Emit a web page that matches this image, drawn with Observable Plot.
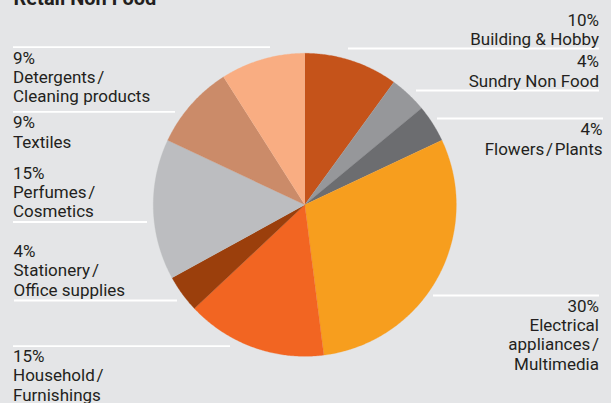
<!DOCTYPE html>
<html><head><meta charset="utf-8">
<script src="https://cdn.jsdelivr.net/npm/d3@7"></script>
<script src="https://cdn.jsdelivr.net/npm/@observablehq/plot@0.6"></script>
<style>
html,body{margin:0;padding:0;background:#e4e5e7;}
#chart svg{display:block;}
</style></head><body><div id="chart"></div>
<script>
// ---- data ----
const title = "Retail Non Food";
const categories = [
  "Building & Hobby",
  "Sundry Non Food",
  "Flowers\u200A/\u200APlants",
  "Electrical\nappliances\u200A/\nMultimedia",
  "Household\u200A/\nFurnishings",
  "Stationery\u200A/\nOffice supplies",
  "Perfumes\u200A/\nCosmetics",
  "Textiles",
  "Detergents\u200A/\nCleaning products"
];
const values = [10, 4, 4, 30, 15, 4, 15, 9, 9];
const colors = ["#c5531a", "#96979a", "#6c6d70", "#f79e1e", "#f26522", "#9b3f0c", "#bcbdc0", "#cb8b69", "#f9ad82"];

// ---- layout (pixels) ----
const W = 611, H = 403, cx = 304.3, cy = 204.3, R = 151.5;
const labelLayout = [
  {anchor: "end",   tx: 598.5, ty: 44.3,  ry: 48,    x1: 348, x2: 599},
  {anchor: "end",   tx: 598.5, ty: 86,    ry: 90,    x1: 416, x2: 599},
  {anchor: "end",   tx: 602,   ty: 154,   ry: 118,   x1: 437, x2: 603},
  {anchor: "end",   tx: 598.5, ty: 369,   ry: 295,   x1: 433, x2: 599},
  {anchor: "start", tx: 12.5,  ty: 400,   ry: 345.7, x1: 13,  x2: 230},
  {anchor: "start", tx: 13,    ty: 295,   ry: 300,   x1: 14,  x2: 177},
  {anchor: "start", tx: 12.5,  ty: 216.7, ry: 221.5, x1: 13,  x2: 147},
  {anchor: "start", tx: 12.5,  ty: 147,   ry: 111.3, x1: 13,  x2: 175},
  {anchor: "start", tx: 12.5,  ty: 101.7, ry: 46.7,  x1: 13,  x2: 270}
];

const pie = d3.pie().sort(null).value(d => d)(values);
const slices = pie.map((p, i) => {
  const pts = [[cx, cy]];
  const steps = Math.max(4, Math.ceil((p.endAngle - p.startAngle) / (Math.PI / 360)));
  for (let k = 0; k <= steps; k++) {
    const a = p.startAngle + (p.endAngle - p.startAngle) * k / steps;
    pts.push([cx + R * Math.sin(a), cy - R * Math.cos(a)]);
  }
  return {pts, color: colors[i]};
});

const labels = categories.map((c, i) => ({text: `${values[i]}%\n${c}`, ...labelLayout[i]}));

const marks = [];
for (const s of slices) {
  marks.push(Plot.line(s.pts, {x: d => d[0], y: d => d[1], fill: s.color, stroke: s.color, strokeWidth: 0.3}));
}
marks.push(Plot.ruleY(labels, {y: "ry", x1: "x1", x2: "x2", stroke: "#ffffff", strokeWidth: 1.8}));
for (const anchor of ["start", "end"]) {
  marks.push(Plot.text(labels.filter(d => d.anchor === anchor), {
    x: "tx", y: "ty", text: "text", textAnchor: anchor, lineAnchor: "bottom",
    lineHeight: 1.135, fontSize: 17, fill: "#231f20"
  }));
}
marks.push(Plot.text([title], {frameAnchor: "top-left", dx: 13, dy: 4, lineAnchor: "bottom",
  textAnchor: "start", fontSize: 20, fontWeight: "bold", fill: "#231f20"}));

const chart = Plot.plot({
  width: W, height: H,
  margin: 0,
  x: {type: "linear", domain: [0, W], range: [0, W], axis: null},
  y: {type: "linear", domain: [0, H], range: [0, H], axis: null},
  style: {background: "#e4e5e7", fontFamily: "Roboto, sans-serif", overflow: "visible"},
  marks
});
document.getElementById("chart").appendChild(chart);
</script>
</body></html>
